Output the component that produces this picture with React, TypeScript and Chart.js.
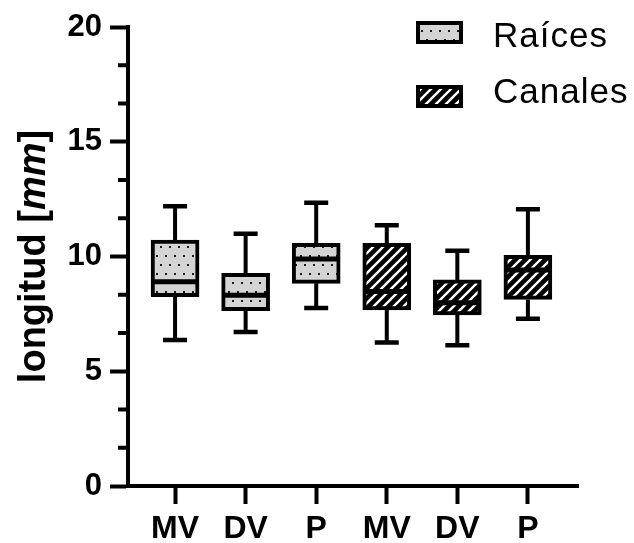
import React, { useEffect, useRef } from 'react';
import { Chart, registerables } from 'chart.js';

Chart.register(...registerables);

// ---- data ----
const categories = ['MV', 'DV', 'P', 'MV', 'DV', 'P'];
const seriesNames = ['Raíces', 'Canales'];
const raicesPos = [0, 1, 2];
const canalesPos = [3, 4, 5];
const raicesMin = [6.36, 6.71, 7.76];
const raicesQ1 = [8.25, 7.64, 8.83];
const raicesMedian = [8.9, 8.31, 9.89];
const raicesQ3 = [10.72, 9.27, 10.57];
const raicesMax = [12.19, 10.99, 12.34];
const canalesMin = [6.25, 6.13, 7.29];
const canalesQ1 = [7.67, 7.45, 8.13];
const canalesMedian = [8.47, 7.99, 9.41];
const canalesQ3 = [10.57, 8.98, 10.05];
const canalesMax = [11.36, 10.25, 12.06];
const yTicks = [0, 5, 10, 15, 20];
const yMinorTicks = [5 / 3, 10 / 3, 20 / 3, 25 / 3, 35 / 3, 40 / 3, 50 / 3, 55 / 3];
const yTitle = ['longitud [', 'mm', ']'];

const FONT = "'Liberation Sans', Arial, sans-serif";

function makeDots(ctxRef: HTMLCanvasElement) {
  const c = document.createElement('canvas');
  c.width = 9;
  c.height = 18;
  const g = c.getContext('2d')!;
  g.fillStyle = '#d4d4d4';
  g.fillRect(0, 0, 9, 18);
  g.fillStyle = '#1a1a1a';
  g.fillRect(3, 3, 2, 2);
  g.fillRect(7, 12, 2, 2);
  return ctxRef.getContext('2d')!.createPattern(c, 'repeat')!;
}

function makeHatch(ctxRef: HTMLCanvasElement) {
  const s = 10;
  const c = document.createElement('canvas');
  c.width = s;
  c.height = s;
  const g = c.getContext('2d')!;
  g.fillStyle = '#000';
  g.fillRect(0, 0, s, s);
  g.strokeStyle = '#fff';
  g.lineWidth = 2.4;
  g.beginPath();
  g.moveTo(0, s);
  g.lineTo(s, 0);
  g.moveTo(-s / 2, s / 2);
  g.lineTo(s / 2, -s / 2);
  g.moveTo(s / 2, s + s / 2);
  g.lineTo(s + s / 2, s / 2);
  g.stroke();
  return ctxRef.getContext('2d')!.createPattern(c, 'repeat')!;
}

const stats = [
  { min: raicesMin, med: raicesMedian, max: raicesMax },
  { min: canalesMin, med: canalesMedian, max: canalesMax },
];

export default function App() {
  const ref = useRef<HTMLCanvasElement>(null);

  useEffect(() => {
    const canvas = ref.current!;
    const dotP = makeDots(canvas);
    const hatchP = makeHatch(canvas);
    const fills = [dotP, hatchP];

    const boxPlugin = {
      id: 'boxExtras',
      afterDatasetsDraw(chart: any) {
        const ctx = chart.ctx;
        const y = chart.scales.y;
        ctx.save();
        ctx.strokeStyle = '#000';
        chart.data.datasets.forEach((ds: any, di: number) => {
          const meta = chart.getDatasetMeta(di);
          const st = stats[di];
          meta.data.forEach((el: any, i: number) => {
            const cx = el.x;
            const half = el.width / 2;
            const [q1, q3] = ds.data[i].y;
            const pq1 = y.getPixelForValue(q1);
            const pq3 = y.getPixelForValue(q3);
            const pmin = y.getPixelForValue(st.min[i]);
            const pmax = y.getPixelForValue(st.max[i]);
            const pmed = y.getPixelForValue(st.med[i]);
            ctx.lineWidth = 4;
            ctx.beginPath();
            ctx.moveTo(cx, pq3);
            ctx.lineTo(cx, pmax);
            ctx.moveTo(cx, pq1);
            ctx.lineTo(cx, pmin);
            ctx.stroke();
            ctx.lineWidth = 4.5;
            ctx.beginPath();
            ctx.moveTo(cx - half / 2, pmax);
            ctx.lineTo(cx + half / 2, pmax);
            ctx.moveTo(cx - half / 2, pmin);
            ctx.lineTo(cx + half / 2, pmin);
            ctx.stroke();
            ctx.lineWidth = 5;
            ctx.beginPath();
            ctx.moveTo(cx - half + 2, pmed);
            ctx.lineTo(cx + half - 2, pmed);
            ctx.stroke();
          });
        });
        // minor ticks on y axis
        const left = chart.chartArea.left;
        ctx.lineWidth = 4;
        ctx.beginPath();
        yMinorTicks.forEach((v) => {
          const py = y.getPixelForValue(v);
          ctx.moveTo(left - 10, py);
          ctx.lineTo(left, py);
        });
        ctx.stroke();
        ctx.restore();
      },
      afterDraw(chart: any) {
        const ctx = chart.ctx;
        ctx.save();
        // y title with italic part
        const fonts = [`bold 38px ${FONT}`, `italic bold 38px ${FONT}`, `bold 38px ${FONT}`];
        let total = 0;
        const widths = yTitle.map((t, i) => {
          ctx.font = fonts[i];
          const w = ctx.measureText(t).width;
          total += w;
          return w;
        });
        const cy = (chart.chartArea.top + chart.chartArea.bottom) / 2;
        ctx.translate(45, cy + 0);
        ctx.rotate(-Math.PI / 2);
        ctx.fillStyle = '#000';
        ctx.textBaseline = 'alphabetic';
        ctx.textAlign = 'left';
        let x = -total / 2;
        yTitle.forEach((t, i) => {
          ctx.font = fonts[i];
          ctx.fillText(t, x, 0);
          x += widths[i];
        });
        ctx.restore();

        // legend
        ctx.save();
        const items = [
          { y: 21, fill: fills[0], text: seriesNames[0], ty: 47 },
          { y: 85, fill: fills[1], text: seriesNames[1], ty: 103 },
        ];
        items.forEach((it) => {
          ctx.fillStyle = it.fill;
          ctx.fillRect(416, it.y, 47, 23);
          ctx.strokeStyle = '#000';
          ctx.lineWidth = 4;
          ctx.strokeRect(418, it.y + 2, 43, 19);
          ctx.fillStyle = '#000';
          ctx.font = `35px ${FONT}`;
          (ctx as any).letterSpacing = '1px';
          ctx.textAlign = 'left';
          ctx.textBaseline = 'alphabetic';
          ctx.fillText(it.text, 493, it.ty);
        });
        ctx.restore();
      },
    };

    const chart = new Chart(canvas, {
      type: 'bar',
      data: {
        datasets: [
          {
            label: seriesNames[0],
            data: raicesPos.map((x, i) => ({ x, y: [raicesQ1[i], raicesQ3[i]] })) as any,
            backgroundColor: dotP as any,
            borderColor: '#000',
            borderWidth: 4,
            borderSkipped: false,
            barThickness: 48,
            grouped: false,
          } as any,
          {
            label: seriesNames[1],
            data: canalesPos.map((x, i) => ({ x, y: [canalesQ1[i], canalesQ3[i]] })) as any,
            backgroundColor: hatchP as any,
            borderColor: '#000',
            borderWidth: 4,
            borderSkipped: false,
            barThickness: 48,
            grouped: false,
          } as any,
        ],
      },
      options: {
        animation: false,
        responsive: true,
        maintainAspectRatio: false,
        layout: { padding: { top: 27, right: 56, bottom: 0, left: 0 } },
        plugins: { legend: { display: false }, tooltip: { enabled: false }, title: { display: false } },
        scales: {
          x: {
            type: 'linear',
            min: -0.667,
            max: 5.71,
            offset: false,
            afterBuildTicks: (s: any) => {
              s.ticks = categories.map((_, i) => ({ value: i }));
            },
            afterFit: (s: any) => {
              s.height = 57;
            },
            ticks: {
              callback: (v: any) => categories[Math.round(Number(v))],
              font: { family: FONT, size: 32, weight: 'bold' },
              color: '#000',
              padding: 6,
              autoSkip: false,
              maxRotation: 0,
            },
            grid: { offset: false, drawOnChartArea: false, drawTicks: true, tickLength: 18, tickWidth: 4, tickColor: '#000', color: '#000' },
            border: { display: true, color: '#000', width: 4 },
          },
          y: {
            type: 'linear',
            min: 0,
            max: 20,
            afterBuildTicks: (s: any) => {
              s.ticks = yTicks.map((v) => ({ value: v }));
            },
            afterFit: (s: any) => {
              s.width = 128;
            },
            ticks: {
              font: { family: FONT, size: 31, weight: 'bold' },
              color: '#000',
              padding: 8,
            },
            grid: { drawOnChartArea: false, drawTicks: true, tickLength: 18, tickWidth: 4, tickColor: '#000', color: '#000' },
            border: { display: true, color: '#000', width: 4 },
          },
        } as any,
      },
      plugins: [boxPlugin],
    });
    return () => chart.destroy();
  }, []);

  return (
    <div style={{ position: 'fixed', left: 0, top: 0, width: 634, height: 543, background: '#fff' }}>
      <canvas ref={ref} />
    </div>
  );
}
